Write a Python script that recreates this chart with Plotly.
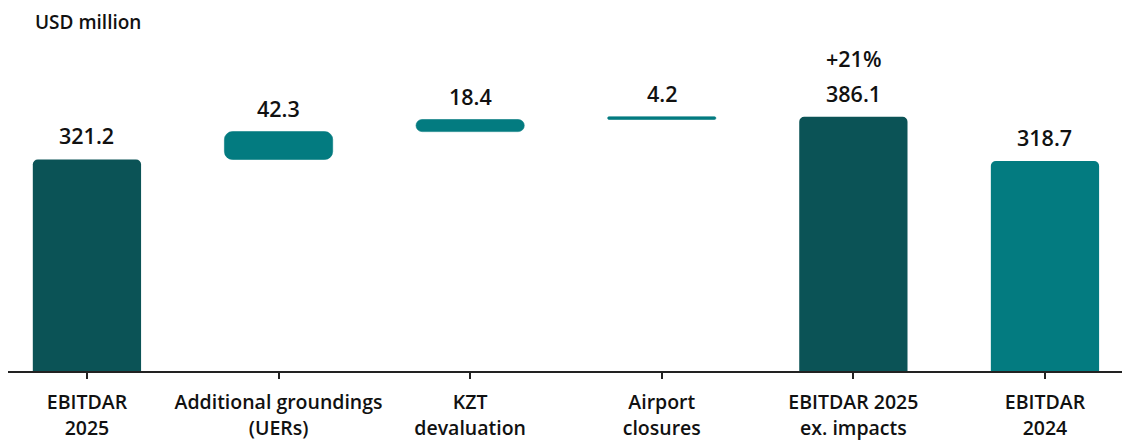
import plotly.graph_objects as go

# Bridge from reported EBITDAR 2025 to EBITDAR 2025 excluding one-off impacts
categories = ["EBITDAR<br>2025", "Additional groundings<br>(UERs)", "KZT<br>devaluation",
              "Airport<br>closures", "EBITDAR 2025<br>ex. impacts", "EBITDAR<br>2024"]
values = [321.2, 42.3, 18.4, 4.2, 386.1, 318.7]
kinds = ["total", "step", "step", "step", "total", "total"]
bar_colors = ["#0b5356", "#037b80", "#037b80", "#037b80", "#0b5356", "#037b80"]
growth_label = "+21%"
unit_label = "USD million"

FONT = "Open Sans"
TEXT = "#111111"
BAR_W = 0.565
fig = go.Figure()

running = 0.0
tops = []
for cat, val, kind, col in zip(categories, values, kinds, bar_colors):
    if kind == "total":
        # grows from zero: only the top corners are rounded
        fig.add_trace(go.Bar(x=[cat], y=[val], width=BAR_W,
                             marker=dict(color=col, cornerradius=5, line=dict(width=0))))
        running = val
        tops.append(val)
    else:
        # floating step with an explicit base: rounded at both ends
        fig.add_trace(go.Bar(x=[cat], y=[val], base=[running], width=BAR_W,
                             marker=dict(color=col, cornerradius=8,
                                         line=dict(width=0.6, color=col))))
        running = running + val
        tops.append(running)

annotations = []
for cat, val, top in zip(categories, values, tops):
    annotations.append(dict(x=cat, y=top, xref="x", yref="y", text=f"{val:.1f}",
                            showarrow=False, yanchor="bottom", yshift=7,
                            font=dict(family=FONT, size=21.5, weight=600, color=TEXT)))
annotations.append(dict(x=categories[4], y=tops[4], xref="x", yref="y", text=growth_label,
                        showarrow=False, yanchor="bottom", yshift=42,
                        font=dict(family=FONT, size=21.5, weight=600, color=TEXT)))
annotations.append(dict(x=(33 - 8) / 1114, y=1 + (20 - 22) / 351, xref="paper", yref="paper",
                        text=unit_label, showarrow=False, xanchor="left", yanchor="middle",
                        font=dict(family=FONT, size=19, weight=600, color=TEXT)))

fig.update_layout(
    width=1122, height=440,
    margin=dict(l=8, r=0, t=20, b=69),
    plot_bgcolor="white", paper_bgcolor="white",
    barmode="overlay", showlegend=False,
    annotations=annotations,
    xaxis=dict(type="category", categoryorder="array", categoryarray=categories,
               range=[-0.412, 5.402], showline=True, linecolor="#222222", linewidth=1.5,
               ticks="outside", ticklen=6, tickcolor="#222222", tickwidth=1.5,
               ticklabelstandoff=7,
               showgrid=False, zeroline=False,
               tickfont=dict(family=FONT, size=19.5, weight=600, color=TEXT)),
    yaxis=dict(range=[0, 533], visible=False, showgrid=False, zeroline=False),
)

fig.write_html("out.html")
